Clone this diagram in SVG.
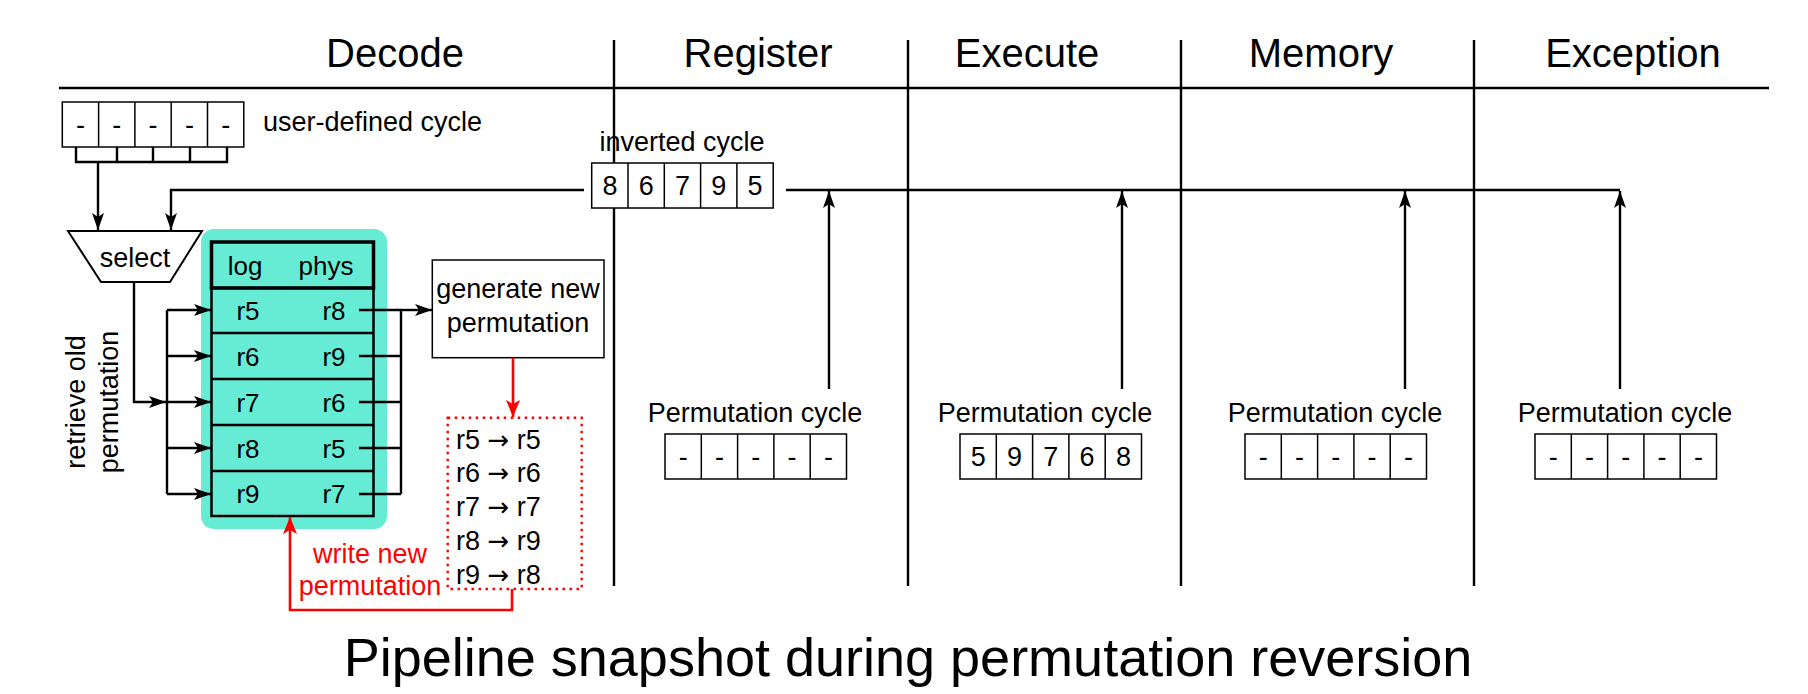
<svg xmlns="http://www.w3.org/2000/svg" width="1808" height="694" viewBox="0 0 1808 694">
<defs>
<style>
text{font-family:"Liberation Sans",Arial,sans-serif;fill:#000}
.f27{font-size:27px}
.f26{font-size:26px}
.hd{font-size:40px;text-anchor:middle}
.c{text-anchor:middle}
.ar{font-family:"DejaVu Sans",sans-serif;font-size:26px}
.ln{fill:none;stroke:#000;stroke-width:2.4}
.cell{fill:#fff;stroke:#000;stroke-width:1.5}
.rl{fill:none;stroke:#f00;stroke-width:2.6}
.rt{fill:#f00}
</style>
<marker id="ah" markerWidth="18" markerHeight="14" refX="17" refY="7" orient="auto" markerUnits="userSpaceOnUse"><path d="M0,1 L17,7 L0,13 L4,7 z" fill="#000"/></marker>
<marker id="ahr" markerWidth="18" markerHeight="16" refX="17" refY="8" orient="auto" markerUnits="userSpaceOnUse"><path d="M0,1 L17,8 L0,15 L4,8 z" fill="#f00"/></marker>
</defs>
<rect width="1808" height="694" fill="#fff"/>

<g id="stages">
<line x1="59" y1="88" x2="1769" y2="88" stroke="#000" stroke-width="2.6"/>
<g stroke="#000" stroke-width="2.4">
<line x1="614" y1="40" x2="614" y2="586"/>
<line x1="908" y1="40" x2="908" y2="586"/>
<line x1="1181" y1="40" x2="1181" y2="586"/>
<line x1="1474" y1="40" x2="1474" y2="586"/>
</g>
<text class="hd" x="395" y="67">Decode</text>
<text class="hd" x="758" y="67">Register</text>
<text class="hd" x="1027" y="67">Execute</text>
<text class="hd" x="1321" y="67">Memory</text>
<text class="hd" x="1633" y="67">Exception</text>
</g>

<g id="user-cycle">
<rect class="cell" x="62.3" y="102" width="181.5" height="45"/>
<g stroke="#000" stroke-width="1.5"><line x1="98.6" y1="102" x2="98.6" y2="147"/><line x1="134.9" y1="102" x2="134.9" y2="147"/><line x1="171.2" y1="102" x2="171.2" y2="147"/><line x1="207.5" y1="102" x2="207.5" y2="147"/></g>
<g class="f27 c"><text x="80.5" y="134">-</text><text x="116.8" y="134">-</text><text x="153.1" y="134">-</text><text x="189.4" y="134">-</text><text x="225.7" y="134">-</text></g>
<text class="f27" x="263" y="131">user-defined cycle</text>
</g>

<g id="inverted-cycle">
<text class="f27 c" x="682" y="151">inverted cycle</text>
<rect class="cell" x="591.7" y="163" width="181.5" height="45"/>
<g stroke="#000" stroke-width="1.5"><line x1="628" y1="163" x2="628" y2="208"/><line x1="664.3" y1="163" x2="664.3" y2="208"/><line x1="700.6" y1="163" x2="700.6" y2="208"/><line x1="736.9" y1="163" x2="736.9" y2="208"/></g>
<g class="f27 c"><text x="609.9" y="195">8</text><text x="646.2" y="195">6</text><text x="682.5" y="195">7</text><text x="718.8" y="195">9</text><text x="755.1" y="195">5</text></g>
</g>

<g id="select">
<path d="M68,231 H202 L170,282 H101 Z" fill="#fff" stroke="#000" stroke-width="2"/>
<text class="f27 c" x="135" y="267">select</text>
</g>

<g id="retrieve-label">
<text class="f27 c" transform="translate(85,402) rotate(-90)">retrieve old</text>
<text class="f27 c" transform="translate(118,402) rotate(-90)">permutation</text>
</g>

<g id="map-table">
<rect x="201" y="229" width="186" height="300" rx="13" fill="#66ecd4"/>
<rect x="211.5" y="242" width="162" height="46" fill="none" stroke="#000" stroke-width="3.5"/>
<rect x="211.5" y="288" width="162" height="228" fill="none" stroke="#000" stroke-width="2.5"/>
<g stroke="#000" stroke-width="2.5"><line x1="211.5" y1="333" x2="373.5" y2="333"/><line x1="211.5" y1="379" x2="373.5" y2="379"/><line x1="211.5" y1="425" x2="373.5" y2="425"/><line x1="211.5" y1="471" x2="373.5" y2="471"/></g>
<g class="f26 c">
<text x="245" y="275">log</text><text x="326" y="275">phys</text>
<text x="248" y="320">r5</text><text x="334" y="320">r8</text>
<text x="248" y="365.5">r6</text><text x="334" y="365.5">r9</text>
<text x="248" y="411.5">r7</text><text x="334" y="411.5">r6</text>
<text x="248" y="457.5">r8</text><text x="334" y="457.5">r5</text>
<text x="248" y="503">r9</text><text x="334" y="503">r7</text>
</g>
</g>

<g id="generate">
<rect x="432.3" y="260" width="171.7" height="97.7" fill="#fff" stroke="#000" stroke-width="1.5"/>
<text class="f27 c" x="518" y="298">generate new</text>
<text class="f27 c" x="518" y="332">permutation</text>
</g>

<g id="new-mapping">
<rect x="447.7" y="417.7" width="134" height="171.3" fill="none" stroke="#f00" stroke-width="2.4" stroke-dasharray="2.5 4.5"/>
<g class="f27">
<text x="456" y="448.5">r5 <tspan class="ar">→</tspan> r5</text>
<text x="456" y="482.3">r6 <tspan class="ar">→</tspan> r6</text>
<text x="456" y="516.1">r7 <tspan class="ar">→</tspan> r7</text>
<text x="456" y="549.9">r8 <tspan class="ar">→</tspan> r9</text>
<text x="456" y="583.7">r9 <tspan class="ar">→</tspan> r8</text>
</g>
</g>

<g id="write-label">
<text class="f27 c rt" x="370" y="563">write new</text>
<text class="f27 c rt" x="370" y="595">permutation</text>
</g>

<g id="perm-register">
<text class="f27 c" x="755" y="422">Permutation cycle</text>
<rect class="cell" x="665" y="434" width="181.5" height="45"/>
<g stroke="#000" stroke-width="1.5"><line x1="701.3" y1="434" x2="701.3" y2="479"/><line x1="737.6" y1="434" x2="737.6" y2="479"/><line x1="773.9" y1="434" x2="773.9" y2="479"/><line x1="810.2" y1="434" x2="810.2" y2="479"/></g>
<g class="f27 c"><text x="683.2" y="466">-</text><text x="719.5" y="466">-</text><text x="755.8" y="466">-</text><text x="792.1" y="466">-</text><text x="828.4" y="466">-</text></g>
</g>

<g id="perm-execute">
<text class="f27 c" x="1045" y="422">Permutation cycle</text>
<rect class="cell" x="960" y="434" width="181.5" height="45"/>
<g stroke="#000" stroke-width="1.5"><line x1="996.3" y1="434" x2="996.3" y2="479"/><line x1="1032.6" y1="434" x2="1032.6" y2="479"/><line x1="1068.9" y1="434" x2="1068.9" y2="479"/><line x1="1105.2" y1="434" x2="1105.2" y2="479"/></g>
<g class="f27 c"><text x="978.2" y="466">5</text><text x="1014.5" y="466">9</text><text x="1050.8" y="466">7</text><text x="1087.1" y="466">6</text><text x="1123.4" y="466">8</text></g>
</g>

<g id="perm-memory">
<text class="f27 c" x="1335" y="422">Permutation cycle</text>
<rect class="cell" x="1245" y="434" width="181.5" height="45"/>
<g stroke="#000" stroke-width="1.5"><line x1="1281.3" y1="434" x2="1281.3" y2="479"/><line x1="1317.6" y1="434" x2="1317.6" y2="479"/><line x1="1353.9" y1="434" x2="1353.9" y2="479"/><line x1="1390.2" y1="434" x2="1390.2" y2="479"/></g>
<g class="f27 c"><text x="1263.2" y="466">-</text><text x="1299.5" y="466">-</text><text x="1335.8" y="466">-</text><text x="1372.1" y="466">-</text><text x="1408.4" y="466">-</text></g>
</g>

<g id="perm-exception">
<text class="f27 c" x="1625" y="422">Permutation cycle</text>
<rect class="cell" x="1535" y="434" width="181.5" height="45"/>
<g stroke="#000" stroke-width="1.5"><line x1="1571.3" y1="434" x2="1571.3" y2="479"/><line x1="1607.6" y1="434" x2="1607.6" y2="479"/><line x1="1643.9" y1="434" x2="1643.9" y2="479"/><line x1="1680.2" y1="434" x2="1680.2" y2="479"/></g>
<g class="f27 c"><text x="1553.2" y="466">-</text><text x="1589.5" y="466">-</text><text x="1625.8" y="466">-</text><text x="1662.1" y="466">-</text><text x="1698.4" y="466">-</text></g>
</g>

<g id="connectors">
<path class="ln" d="M76,147 V162 H227 V147 M117,147 V162 M153,147 V162 M190,147 V162"/>
<path class="ln" d="M98,162 V230" marker-end="url(#ah)"/>
<path class="ln" d="M584,190 H171 V230" marker-end="url(#ah)"/>
<path class="ln" d="M786,190 H1620"/>
<path class="ln" d="M829,389 V191" marker-end="url(#ah)"/>
<path class="ln" d="M1122,389 V191" marker-end="url(#ah)"/>
<path class="ln" d="M1405,389 V191" marker-end="url(#ah)"/>
<path class="ln" d="M1620,389 V191" marker-end="url(#ah)"/>
<path class="ln" d="M134,282 V402 H166" marker-end="url(#ah)"/>
<path class="ln" d="M167,310 V494"/>
<path class="ln" d="M167,310 H211" marker-end="url(#ah)"/>
<path class="ln" d="M167,356 H211" marker-end="url(#ah)"/>
<path class="ln" d="M167,402 H211" marker-end="url(#ah)"/>
<path class="ln" d="M167,448 H211" marker-end="url(#ah)"/>
<path class="ln" d="M167,494 H211" marker-end="url(#ah)"/>
<path class="ln" d="M359,310 H401 M359,356 H401 M359,402 H401 M359,448 H401 M359,494 H401 M401,310 V494"/>
<path class="ln" d="M401,310 H432" marker-end="url(#ah)"/>
<path class="rl" d="M513,358 V417" marker-end="url(#ahr)"/>
<path class="rl" d="M512,589 V610 H290 V517" marker-end="url(#ahr)"/>
</g>

<text x="908" y="676" class="c" style="font-size:54px">Pipeline snapshot during permutation reversion</text>
</svg>
